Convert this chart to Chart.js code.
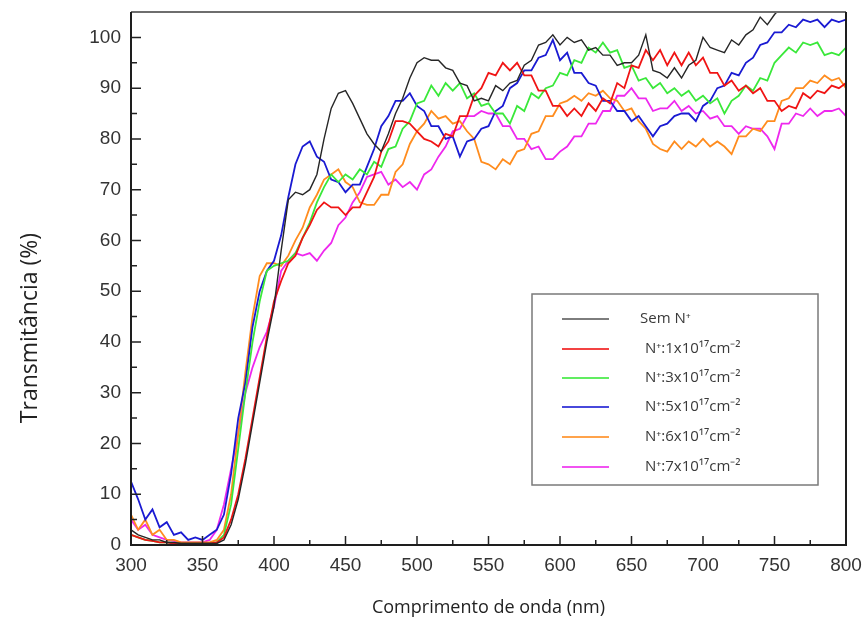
<!DOCTYPE html>
<html>
<head>
<meta charset="utf-8">
<script src="https://cdn.jsdelivr.net/npm/chart.js@4.4.1/dist/chart.umd.min.js"></script>
<style>
  html, body { margin: 0; padding: 0; background: #fff; }
  #wrap { width: 867px; height: 630px; position: relative; }
</style>
</head>
<body>
<div id="wrap"><canvas id="transChart"></canvas></div>
<script>
// comprimento de onda (nm)
const wl = [300,305,310,315,320,325,330,335,340,345,350,355,360,365,370,375,380,385,390,395,
  400,405,410,415,420,425,430,435,440,445,450,455,460,465,470,475,480,485,490,495,
  500,505,510,515,520,525,530,535,540,545,550,555,560,565,570,575,580,585,590,595,
  600,605,610,615,620,625,630,635,640,645,650,655,660,665,670,675,680,685,690,695,
  700,705,710,715,720,725,730,735,740,745,750,755,760,765,770,775,780,785,790,795,800];

// transmitancia (%)
const semN = [3,2,1.5,1,1,0.5,0.5,0.3,0.3,0.3,0.3,0.3,0.3,1,4,9,16,24,32,40,
  47,58,68,69.5,69,70,73,80,86,89,89.5,87,84,81,79,77.5,81,85,88,92,
  95,96,95.5,95.5,94,93.5,91,90.5,87.5,88,87.5,90.5,89.5,91,91.5,94.5,95.5,98.5,99,100.5,
  98.5,100,99,99.5,97.5,98,96.5,96.5,94.5,95,95,96.5,100.5,93.5,93,92,94,92,94.5,95.5,
  100,98,97.5,97,99.5,98.5,100.5,101.5,104,102.5,104.5,106,107,107,108,108,108,108,108,108,108];

const n1 = [2,1.5,1,0.8,0.5,0.5,0.3,0.3,0.3,0.3,0.3,0.3,0.5,1.5,5,10,17,25,33,41,
  48,52,55.5,57,60.5,63,66,67.5,66.5,66.5,65,66.5,66.5,69.5,72.5,77.5,79.5,83.5,83.5,83,
  81.5,80,79.5,78.5,81,80.5,84.5,84.5,88.5,90,93,92.5,95,93.5,95,92.5,92.5,89.5,89.5,86.5,
  86.5,84.5,86,84.5,87,85.5,88,87,91,90,94.5,94,97.5,95.5,97.5,94.5,97,94.5,97,94.5,
  96,93,93,90.5,91.5,89.5,90.5,89,90,87.5,87.5,85.5,86.5,86,89,88,89.5,89,90.5,90,91];

const n3 = [2,1.5,1,0.8,0.5,0.5,0.4,0.3,0.3,0.3,0.3,0.3,0.5,2,8,19,30,40,48,54,
  55,55.5,56,57.5,60.5,63.5,67.5,70.5,73,71.5,73,72,74,73,75.5,74.5,78,78.5,82,83.5,
  87,87.5,90.5,88.5,91,89.5,91,88,89,86.5,87,85,85,83,86.5,85.5,89,88,90,90.5,
  93,92.5,95.5,95,98,97,99,97,97.5,94,94.5,91.5,92,90,91,89,90,88.5,89.5,87.5,
  88.5,87,88,85,87.5,88.5,90.5,89.5,92,91.5,95,96.5,98,97,99,98.5,99,96.5,97,96.5,98];

const n5 = [12.5,9,5,7,3.5,4.5,2,2.5,1,1.5,1,2,3,6,14,25,32,43,50,54,
  56,61,68.5,75,78.5,79.5,76.5,75.5,72,71.5,69.5,71,71,74.5,78,82.5,84.5,87.5,87.5,89,
  86.5,85.5,82.5,82.5,80,80.5,76.5,79.5,80,82,82.5,85.5,86.5,90,91,93.5,93.5,96,96.5,99.5,
  95.5,97,93,93,91,90.5,87.5,87.5,85.5,85.5,83.5,84.5,82.5,80.5,82.5,83,84.5,85,85,83.5,
  86.5,87.5,90,90.5,93,92.5,95,96,98.5,99,101,101,102.5,102,103.5,103,103.5,102,103.5,103,103.5];

const n6 = [6,3,5,2,3,1,1,0.5,0.5,0.5,0.5,0.5,1,3,10,22,34,45,53,55.5,
  55.5,55,57,60,62.5,66.5,69,72,73,74,71.5,70.5,67.5,67,67,69,69,73.5,75,79,
  81.5,83,85.5,84,84.5,83,83.5,81.5,80,75.5,75,74,76,75,77.5,78,81,81.5,84.5,84.5,
  87,87.5,88.5,87.5,89,88.5,89.5,88,87.5,85.5,86,83.5,82,79,78,77.5,79.5,78,79.5,78.5,
  80,78.5,79.5,78.5,77,80.5,80.5,82,81.5,83.5,83.5,87.5,88,90,90,91.5,91,92.5,91.5,92,90];

const n7 = [5,3,4,2,1.5,1,0.8,0.5,0.5,0.5,0.5,1,3,8,15,22,30,35,39,42,
  47,54,56,57.5,57,57.5,56,58,59.5,63,64.5,67.5,69.5,72.5,73,73.5,71,72,70.5,71.5,
  70,73,74,76.5,78.5,81.5,82,84.5,84.5,85.5,85,85,82.5,82.5,80,80,78,78.5,76,76,
  77.5,78.5,80.5,80.5,83,83,85.5,85.5,88.5,88.5,90,88,88,85.5,86,86,87.5,85.5,86.5,85,
  85.5,84,84.5,82.5,82.5,81,82.5,82,82,80.5,78,83,83,85,84.5,86,84.5,85.5,85.5,86,84.5];

const seriesNames = ['Sem N\u207A', 'N\u207A:1x10\u00B9\u2077cm\u207B\u00B2', 'N\u207A:3x10\u00B9\u2077cm\u207B\u00B2',
  'N\u207A:5x10\u00B9\u2077cm\u207B\u00B2', 'N\u207A:6x10\u00B9\u2077cm\u207B\u00B2', 'N\u207A:7x10\u00B9\u2077cm\u207B\u00B2'];
const seriesColors = ['#262626', '#f01414', '#3ae83a', '#1a1ad2', '#ff8c1e', '#ee28ee'];
const seriesData = [semN, n1, n3, n5, n6, n7];

const xTicks = [300, 350, 400, 450, 500, 550, 600, 650, 700, 750, 800];
const yTicks = [0, 10, 20, 30, 40, 50, 60, 70, 80, 90, 100];

// moldura, ticks para dentro e titulo do eixo y
const frameTicks = {
  id: 'frameTicks',
  afterDatasetsDraw(chart) {
    const { ctx, chartArea: a, scales } = chart;
    ctx.save();
    ctx.strokeStyle = '#222';
    ctx.lineWidth = 1.5;
    ctx.beginPath();
    xTicks.forEach((v, i) => {
      let px = scales.x.getPixelForValue(v);
      ctx.moveTo(px, a.bottom); ctx.lineTo(px, a.bottom - 9);
      if (i < xTicks.length - 1) {
        px = scales.x.getPixelForValue(v + 25);
        ctx.moveTo(px, a.bottom); ctx.lineTo(px, a.bottom - 5);
      }
    });
    yTicks.forEach(v => {
      let py = scales.y.getPixelForValue(v);
      ctx.moveTo(a.left, py); ctx.lineTo(a.left + 10, py);
      py = scales.y.getPixelForValue(v + 5);
      ctx.moveTo(a.left, py); ctx.lineTo(a.left + 6, py);
    });
    ctx.stroke();

    ctx.lineWidth = 2;
    ctx.strokeStyle = '#6e6e6e';
    ctx.beginPath();
    ctx.moveTo(a.left, a.top); ctx.lineTo(a.right, a.top);
    ctx.stroke();
    ctx.strokeStyle = '#1e1e1e';
    ctx.beginPath();
    ctx.moveTo(a.left, a.top); ctx.lineTo(a.left, a.bottom);
    ctx.lineTo(a.right, a.bottom); ctx.lineTo(a.right, a.top);
    ctx.stroke();

    ctx.translate(30, 328);
    ctx.rotate(-Math.PI / 2);
    ctx.font = '23px "Open Sans"';
    ctx.fillStyle = '#222';
    ctx.textAlign = 'center';
    ctx.textBaseline = 'middle';
    ctx.fillText('Transmitância (%)', 0, 0);
    ctx.restore();
  }
};

// legenda dentro da area
const boxLegend = {
  id: 'boxLegend',
  afterDraw(chart) {
    const { ctx } = chart;
    const bx = 532, by = 294, bw = 286, bh = 191;
    ctx.save();
    ctx.fillStyle = '#fff';
    ctx.fillRect(bx, by, bw, bh);
    ctx.strokeStyle = '#7a7a7a';
    ctx.lineWidth = 1.5;
    ctx.strokeRect(bx, by, bw, bh);
    ctx.font = '15px "Open Sans"';
    ctx.textBaseline = 'middle';
    const rows = [319, 349, 378, 407, 437, 467];
    seriesNames.forEach((name, i) => {
      ctx.strokeStyle = seriesColors[i];
      ctx.globalAlpha = i === 0 ? 0.6 : 0.8;
      ctx.lineWidth = 2;
      ctx.beginPath();
      ctx.moveTo(562, rows[i]); ctx.lineTo(609, rows[i]);
      ctx.stroke();
      ctx.globalAlpha = 1;
      ctx.fillStyle = '#3a3a3a';
      ctx.fillText(name, i === 0 ? 640 : 645, rows[i]);
    });
    ctx.restore();
  }
};

new Chart(document.getElementById('transChart'), {
  type: 'line',
  data: {
    datasets: seriesData.map((vals, i) => ({
      label: seriesNames[i],
      data: vals.map((v, k) => ({ x: wl[k], y: v })),
      borderColor: seriesColors[i],
      borderWidth: i === 0 ? 1.4 : 1.8,
      pointRadius: 0,
      tension: 0,
      fill: false
    }))
  },
  options: {
    responsive: true,
    maintainAspectRatio: false,
    animation: false,
    layout: { padding: { left: 0, right: 21, top: 12, bottom: 0 } },
    plugins: { legend: { display: false }, tooltip: { enabled: false } },
    scales: {
      x: {
        type: 'linear',
        min: 300, max: 800,
        afterFit: s => { s.height = 85; s.paddingLeft = 0; s.paddingRight = 0; },
        afterBuildTicks: s => { s.ticks = xTicks.map(v => ({ value: v })); },
        grid: { display: false, drawTicks: false },
        border: { display: false },
        ticks: { padding: 9, color: '#333', font: { family: '"Liberation Sans", Arial', size: 19 }, maxRotation: 0 },
        title: { display: true, text: 'Comprimento de onda (nm)', color: '#222',
          font: { family: '"Open Sans"', size: 18 }, padding: { top: 0, bottom: 11 } }
      },
      y: {
        min: 0, max: 105,
        afterFit: s => { s.width = 131; s.paddingTop = 0; s.paddingBottom = 0; },
        afterBuildTicks: s => { s.ticks = yTicks.map(v => ({ value: v })); },
        grid: { display: false, drawTicks: false },
        border: { display: false },
        ticks: { padding: 10, color: '#333', font: { family: '"Liberation Sans", Arial', size: 19 } }
      }
    }
  },
  plugins: [frameTicks, boxLegend]
});
</script>
</body>
</html>
